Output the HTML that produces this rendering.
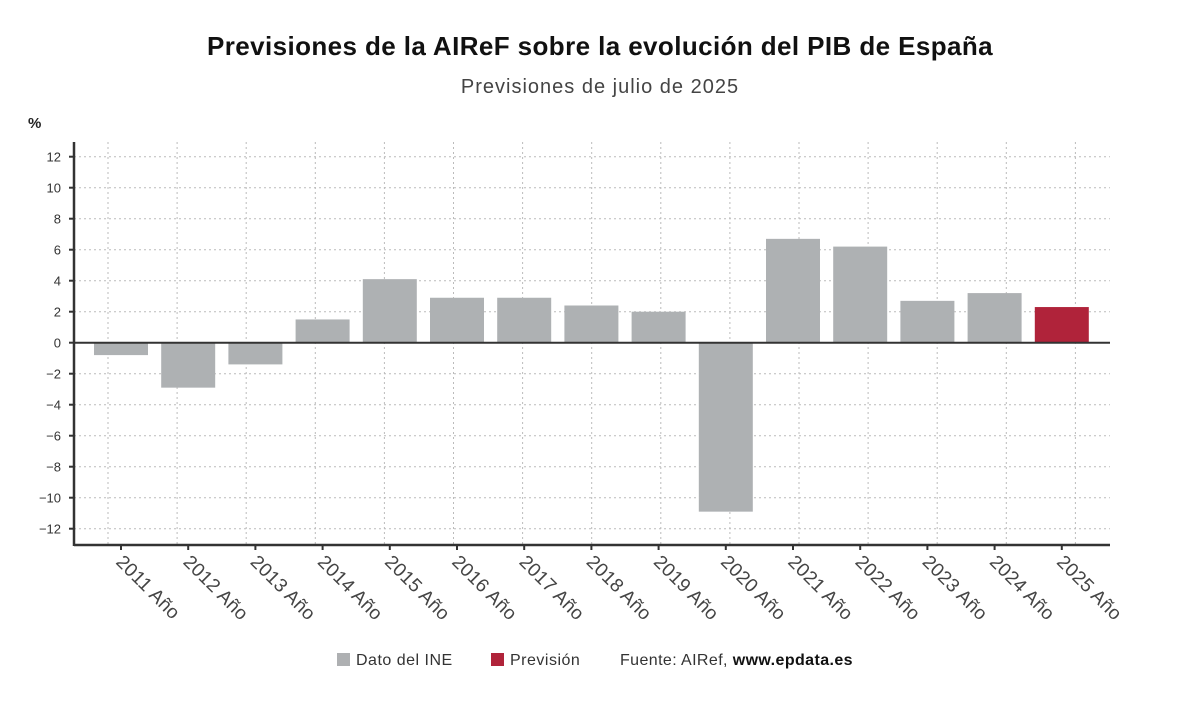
<!DOCTYPE html>
<html><head><meta charset="utf-8"><style>
body{margin:0;background:#fff;font-family:"Liberation Sans","DejaVu Sans",sans-serif;}
svg{display:block}
</style></head><body>
<svg id="c" width="1200" height="705">
<text x="600" y="55" text-anchor="middle" font-size="26" font-weight="bold" letter-spacing="0.4" fill="#111">Previsiones de la AIReF sobre la evolución del PIB de España</text>
<text x="600" y="93" text-anchor="middle" font-size="20" letter-spacing="1" fill="#444">Previsiones de julio de 2025</text>
<text x="28" y="128" font-size="15" font-weight="bold" fill="#222">%</text>
<g id="grid"></g><g id="bars"></g><g id="axes"></g>
<g>
<rect x="337" y="653" width="13" height="13" fill="#aeb0b2"/>
<text x="356" y="665" font-size="16" letter-spacing="0.5" fill="#333">Dato del INE</text>
<rect x="491" y="653" width="13" height="13" fill="#b0233a"/>
<text x="510" y="665" font-size="16" letter-spacing="0.5" fill="#333">Previsión</text>
<text x="620" y="665" font-size="16" letter-spacing="0.4" fill="#333">Fuente: AIRef, <tspan font-weight="bold" fill="#111">www.epdata.es</tspan></text>
</g>
</svg>
<script>
const categories=["2011 Año","2012 Año","2013 Año","2014 Año","2015 Año","2016 Año","2017 Año","2018 Año","2019 Año","2020 Año","2021 Año","2022 Año","2023 Año","2024 Año","2025 Año"];
const values=[-0.8,-2.9,-1.4,1.5,4.1,2.9,2.9,2.4,2.0,-10.9,6.7,6.2,2.7,3.2,2.3];
const isForecast=[false,false,false,false,false,false,false,false,false,false,false,false,false,false,true];
const yTicks=[12,10,8,6,4,2,0,-2,-4,-6,-8,-10,-12];
const NS="http://www.w3.org/2000/svg";
const L=74,R=1110,T=142,B=545;
function y(v){return 342.7-(v)*15.5;}
const bandStart=87.4,bandW=67.2;
function xc(i){return bandStart+bandW*(i+0.5);}
function mk(tag,attrs,parent){const e=document.createElementNS(NS,tag);for(const k in attrs)e.setAttribute(k,attrs[k]);parent.appendChild(e);return e;}
const grid=document.getElementById('grid'),bars=document.getElementById('bars'),axes=document.getElementById('axes');
yTicks.forEach(t=>{
 const l=mk('line',{x1:L,x2:R,y1:y(t),y2:y(t),stroke:'#bbb','stroke-dasharray':'2,3'},grid);
 
 
 const tk=mk('line',{x1:L-5,x2:L,y1:y(t),y2:y(t),stroke:'#333','stroke-width':2},axes);
 
 
 const tx=mk('text',{x:L-13,y:y(t)+5,'text-anchor':'end','font-size':13,fill:'#333'},axes);
 tx.textContent=t<0?'\u2212'+(-t):String(t);
 
 
});
categories.forEach((c,i)=>{
 const gx=108+69.1*i;
 const g=mk('line',{x1:gx,x2:gx,y1:T,y2:B,stroke:'#bbb','stroke-dasharray':'2,3'},grid);
 
 
 const v=values[i];
 const r=mk('rect',{x:xc(i)-27,width:54,y:Math.min(y(0),y(v)),height:Math.abs(y(v)-y(0)),fill:isForecast[i]?'#b0233a':'#aeb1b3'},bars);
 
 
 const tk=mk('line',{x1:xc(i),x2:xc(i),y1:B,y2:B+5,stroke:'#333','stroke-width':2},axes);
 
 
 const tx=mk('text',{x:xc(i)-6,y:B+18,'font-size':19,'letter-spacing':0.3,fill:'#444',transform:`rotate(45 ${xc(i)-6} ${B+18})`},axes);
 tx.textContent=c;
 
 
});
const z=mk('line',{x1:L,x2:R,y1:y(0),y2:y(0),stroke:'#333','stroke-width':2},axes);


const ya=mk('line',{x1:L,x2:L,y1:T,y2:B+1,stroke:'#333','stroke-width':2.5},axes);


const xa=mk('line',{x1:L,x2:R,y1:B,y2:B,stroke:'#333','stroke-width':2.5},axes);


</script>
</body></html>
